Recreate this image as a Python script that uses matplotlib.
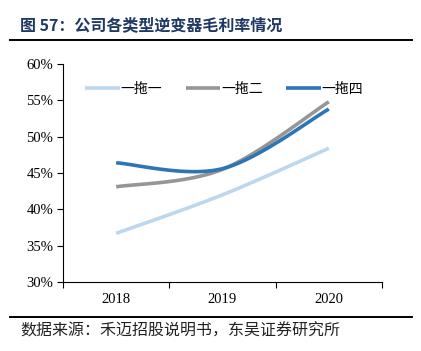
import numpy as np
import matplotlib
matplotlib.use("Agg")
import matplotlib.pyplot as plt
from matplotlib.lines import Line2D

plt.rcParams['font.family'] = ['Noto Sans CJK SC', 'DejaVu Sans']

years = ["2018", "2019", "2020"]
series_names = ["一拖一", "一拖二", "一拖四"]
one_to_one = [36.7, 42.0, 48.4]
one_to_two = [43.1, 45.5, 54.8]
one_to_four = [46.4, 45.6, 53.8]
colors = ["#BDD7EE", "#969696", "#2E75B6"]
yticks = [30, 35, 40, 45, 50, 55, 60]


def smooth(xs, ys, n=60):
    xs = np.asarray(xs, float)
    ys = np.asarray(ys, float)
    P = np.column_stack([xs, ys])
    out = []
    m = len(P)
    for i in range(m - 1):
        p0 = P[i - 1] if i > 0 else P[i]
        p1 = P[i]
        p2 = P[i + 1]
        p3 = P[i + 2] if i + 2 < m else P[i + 1]
        c1 = p1 + (p2 - p0) / 6.0
        c2 = p2 - (p3 - p1) / 6.0
        t = np.linspace(0, 1, n)[:, None]
        seg = ((1 - t) ** 3) * p1 + 3 * ((1 - t) ** 2) * t * c1 + 3 * (1 - t) * t ** 2 * c2 + t ** 3 * p2
        out.append(seg if i == 0 else seg[1:])
    seg = np.vstack(out)
    return seg[:, 0], seg[:, 1]


fig = plt.figure(figsize=(4.21, 3.51), dpi=100)
ax = fig.add_axes([63 / 421, 69 / 351, 319 / 421, 218 / 351])

x = np.arange(len(years))
for name, vals, c in zip(series_names, [one_to_one, one_to_two, one_to_four], colors):
    sx, sy = smooth(x, vals)
    ax.plot(sx, sy, color=c, lw=2.6, solid_capstyle='butt', label=name)

ax.set_xlim(-0.5, len(years) - 0.5)
ax.set_ylim(30, 60)
ax.set_yticks(yticks)
ax.set_yticklabels([f"{v}%" for v in yticks], fontfamily='Liberation Serif', fontsize=10.5)
ax.set_xticks(x)
ax.set_xticklabels(years, fontfamily='Liberation Serif', fontsize=10.5)
ax.set_xticks(np.arange(-0.5, len(years)), minor=True)
ax.tick_params(axis='x', which='major', length=0, pad=8)
ax.tick_params(axis='x', which='minor', length=4, direction='out', width=0.8)
ax.tick_params(axis='y', length=4, direction='out', width=0.8, pad=3)
for s in ['top', 'right']:
    ax.spines[s].set_visible(False)
for s in ['left', 'bottom']:
    ax.spines[s].set_linewidth(0.8)

leg = ax.legend(loc='center left', bbox_to_anchor=((85 - 63) / 319, (282 - 89) / 218), ncol=3,
                frameon=False, fontsize=10, handlelength=2.5, handletextpad=0.05,
                columnspacing=1.7, borderpad=0, borderaxespad=0)

fig.text(20 / 421, 1 - 25 / 351, "图 57：公司各类型逆变器毛利率情况", fontsize=11.5,
         color="#1F3864", fontweight='bold', va='center', ha='left')
fig.add_artist(Line2D([10 / 421, 412 / 421], [1 - 40 / 351, 1 - 40 / 351], color='black', lw=1.4))
fig.add_artist(Line2D([10 / 421, 412 / 421], [1 - 317 / 351, 1 - 317 / 351], color='black', lw=1.4))
fig.text(20 / 421, 1 - 331 / 351, "数据来源：禾迈招股说明书，东吴证券研究所", fontsize=11.5,
         color="#222222", va='center', ha='left')

fig.savefig("out.png", dpi=100)
